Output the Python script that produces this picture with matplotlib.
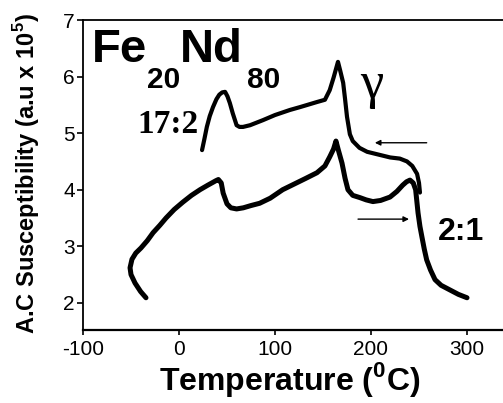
import matplotlib
matplotlib.use("Agg")
import matplotlib.pyplot as plt

plt.rcParams['font.family'] = ['Liberation Sans', 'DejaVu Sans']
plt.rcParams['mathtext.fontset'] = 'custom'
plt.rcParams['mathtext.rm'] = 'Liberation Sans:bold'

# 2:1 phase curve (heating)
heat_T = [-34.4, -40, -45.8, -50, -51, -49, -45, -39.6, -33, -27, -20, -13.5, -5, 4, 13, 21.9, 30,
          38.5, 41, 44, 46, 50, 54, 60, 67, 75, 84, 95, 108, 120, 132, 143.7, 152, 157, 161, 163.5,
          166, 169.8, 173, 176, 181, 188.5, 195, 202, 210, 219.8, 227, 233, 237, 240.6, 244, 246.5,
          249, 251, 253, 255.5, 258, 262, 266.7, 273, 282, 291, 300]
heat_chi = [2.09, 2.20, 2.35, 2.50, 2.62, 2.77, 2.88, 2.97, 3.10, 3.24, 3.37, 3.50, 3.65, 3.78, 3.90, 4.00, 4.08,
            4.16, 4.18, 4.12, 3.94, 3.75, 3.68, 3.66, 3.68, 3.72, 3.76, 3.85, 4.00, 4.10, 4.20, 4.30, 4.42, 4.58, 4.72, 4.86,
            4.70, 4.47, 4.20, 4.00, 3.90, 3.86, 3.82, 3.79, 3.81, 3.87, 3.97, 4.08, 4.14, 4.17, 4.12, 4.00,
            3.59, 3.35, 3.17, 2.95, 2.76, 2.58, 2.41, 2.31, 2.23, 2.15, 2.09]

# 17:2 phase curve (cooling)
cool_T = [24, 26.5, 29, 32, 35.4, 39, 42, 45, 48, 50.5, 53, 56, 60, 63, 66.7, 74, 87.5, 100, 115.6, 126,
          143.7, 152, 157, 161, 165.6, 168, 171, 173, 175, 178, 181, 188, 196, 208, 220, 230, 237.5, 243,
          248, 250, 251]
cool_chi = [4.70, 4.90, 5.11, 5.30, 5.46, 5.60, 5.68, 5.72, 5.73, 5.65, 5.53, 5.35, 5.14, 5.11, 5.11, 5.14, 5.23, 5.32, 5.41, 5.46,
            5.55, 5.59, 5.76, 5.98, 6.26, 6.10, 5.89, 5.60, 5.29, 4.98, 4.86, 4.74, 4.67, 4.62, 4.57, 4.55, 4.50, 4.42,
            4.28, 4.12, 3.95]

x_ticks = [-100, 0, 100, 200, 300]
y_ticks = [2, 3, 4, 5, 6, 7]

W, H = 503, 403
fig = plt.figure(figsize=(W / 100, H / 100), dpi=100)

ax_left, ax_right, ax_top, ax_bottom = 83, 83 + 460 * 0.96, 20, 330
ax = fig.add_axes([ax_left / W, (H - ax_bottom) / H, (ax_right - ax_left) / W, (ax_bottom - ax_top) / H])
ax.set_xlim(-100, 360)
ax.set_ylim(1.52, 7)

ax.plot(heat_T, heat_chi, color='black', lw=3.6, solid_capstyle='round', solid_joinstyle='round')
ax.plot(cool_T, cool_chi, color='black', lw=3.0, solid_capstyle='round', solid_joinstyle='round')

ax.annotate('', xy=(204, 4.83), xytext=(258, 4.83),
            arrowprops=dict(arrowstyle='-|>', color='black', lw=1.0, mutation_scale=8, shrinkA=0, shrinkB=0))
ax.annotate('', xy=(239.6, 3.48), xytext=(186.5, 3.48),
            arrowprops=dict(arrowstyle='-|>', color='black', lw=1.0, mutation_scale=8, shrinkA=0, shrinkB=0))

ax.set_xticks(x_ticks)
ax.set_yticks(y_ticks)
tick_font = dict(family=['Liberation Sans Narrow', 'Liberation Sans'], size=15)
ax.set_xticklabels([str(v) for v in x_ticks], fontdict=tick_font)
ax.set_yticklabels([str(v) for v in y_ticks], fontdict=tick_font)
ax.tick_params(axis='x', direction='out', length=3.6, width=1.2, pad=3.5)
ax.tick_params(axis='y', direction='out', length=4.3, width=1.2, pad=1.5)
ax.spines['right'].set_visible(False)
ax.spines['top'].set_linewidth(1.3)
ax.spines['left'].set_linewidth(1.3)
ax.spines['bottom'].set_linewidth(1.6)

def ftext(px, py, s, **kw):
    fig.text(px / W, (H - py) / H, s, va='baseline', **kw)

ftext(92, 62, 'Fe', fontsize=34, fontweight='bold', ha='left')
ftext(147, 88, '20', fontsize=21.5, fontweight='bold', ha='left')
ftext(180, 62, 'Nd', fontsize=34, fontweight='bold', ha='left')
ftext(247, 88, '80', fontsize=21.5, fontweight='bold', ha='left')

ftext(137, 133, '17:2', fontsize=24, fontweight='bold', family='Liberation Serif', ha='left')
ftext(360, 98, 'γ', fontsize=38, family='Liberation Serif', ha='left')
ftext(438, 240, '2:1', fontsize=23, fontweight='bold', ha='left')

ftext(290, 390, r'Temperature ($^{\mathregular{0}}$C)', fontsize=23, fontweight='bold', ha='center')
fig.text(27 / W, (H - 174) / H, r'A.C Susceptibility (a.u x 10$^{\mathregular{5}}$)',
         fontsize=17, fontweight='bold', rotation=90, ha='center', va='center')

fig.savefig('out.png', dpi=100)
